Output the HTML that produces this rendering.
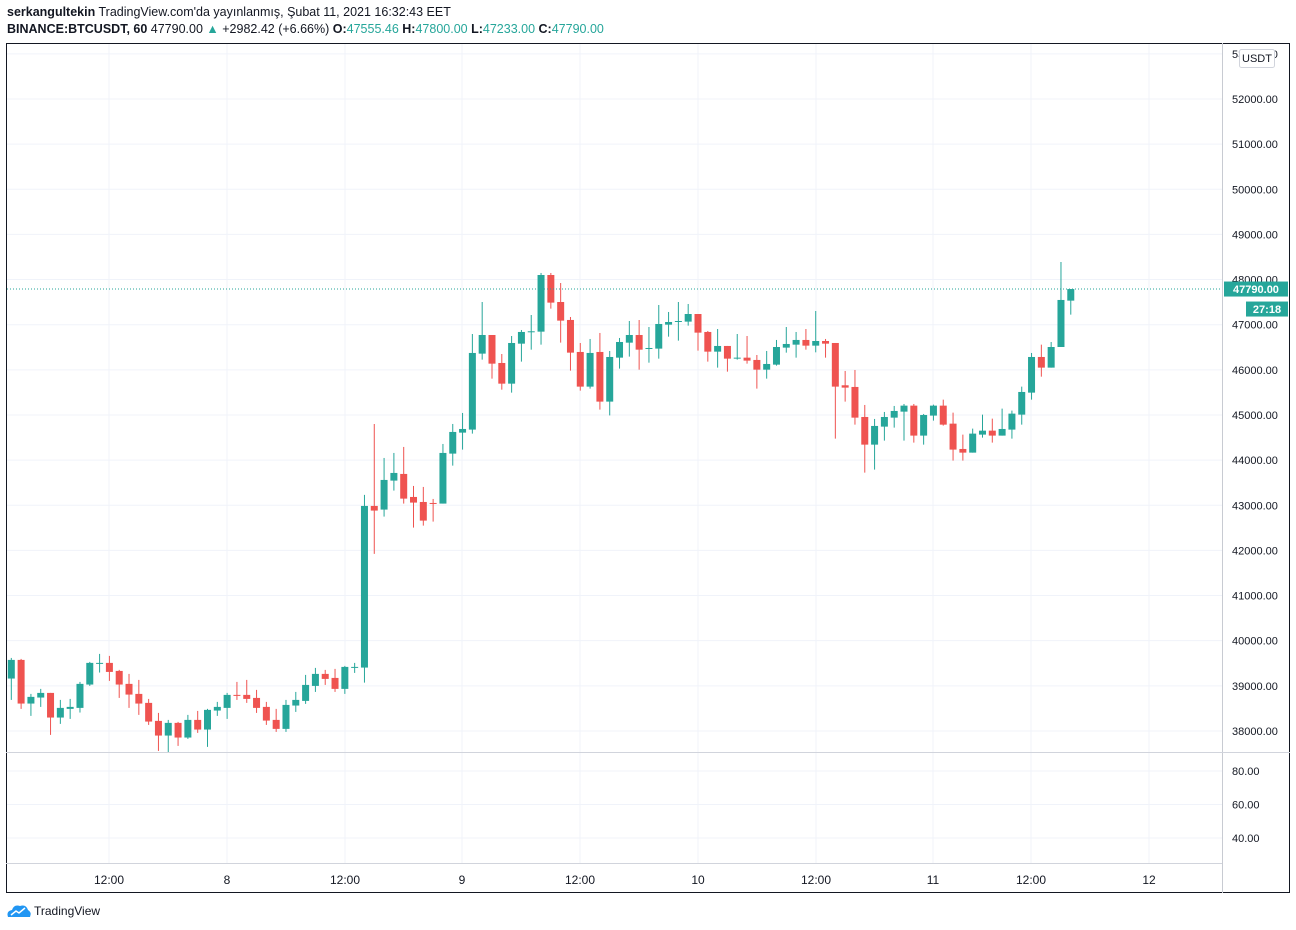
<!DOCTYPE html>
<html><head><meta charset="utf-8"><style>
body{margin:0;width:1296px;height:930px;background:#fff;font-family:"Liberation Sans",sans-serif;overflow:hidden;position:relative}
.hdr{position:absolute;left:7px;font-size:12.5px;color:#131722;white-space:nowrap}
.g{color:#26a69a}
svg{position:absolute;left:0;top:0}
</style></head><body>
<div class="hdr" style="top:5px"><b>serkangultekin</b> TradingView.com'da yayınlanmış, Şubat 11, 2021 16:32:43 EET</div>
<div class="hdr" style="top:22px"><b>BINANCE:BTCUSDT, 60</b> 47790.00 <span class="g">▲</span> +2982.42 (+6.66%) <b>O:</b><span class="g">47555.46</span> <b>H:</b><span class="g">47800.00</span> <b>L:</b><span class="g">47233.00</span> <b>C:</b><span class="g">47790.00</span></div>
<svg id="chart" width="1296" height="930"></svg>
<div style="position:absolute;left:34px;top:904px;font-size:12px;color:#131722">TradingView</div>
<svg width="26" height="16" style="left:6px;top:903px"><path d="M2 14 Q0 8 6 7 Q8 1 14 3 Q20 1 22 7 Q26 9 24 14 Z" fill="#2196f3"/><path d="M5 12 L10 8 L13 10 L19 5" stroke="#fff" stroke-width="1.5" fill="none"/></svg>
<script>
const opens=[39161,39574,38607,38740,38843,38297,38489,38511,39028,39493,39508,39330,39043,38821,38622,38223,37898,38179,37854,38245,38031,38452,38511,38799,38799,38732,38533,38245,38046,38563,38666,38998,39264,39175,38932,39412,
39404,42985,42904,43546,43694,43184,43073,43051,43037,44144,44609,44676,46359,46772,46152,45694,46580,46839,46846,48101,47503,47105,46396,45628,46396,
45296,46270,46602,46772,46462,46470,47001,47060,47068,47237,46839,46403,46529,46248,46270,46219,46004,46115,46492,46558,46662,46536,46639,
46595,45658,45621,44956,44343,44742,44941,45074,45207,44543,44986,45207,44808,44247,44166,44565,44653,44543,44676,45008,45495,46285,46049,46506,47533];
const highs=[39618,39596,38821,38932,38843,38688,38710,39087,39530,39707,39663,39353,39264,39131,38710,38400,38245,38201,38356,38444,38489,38644,38843,39087,39131,38910,38644,38489,38688,38865,39242,39397,39353,39375,39441,39508,
43229,44801,44048,44159,44292,43428,43406,43140,44358,44801,45045,46794,47503,46772,46351,46750,46883,47215,48146,48146,47924,47171,46595,46684,46817,
46418,46706,47082,47104,46949,47437,47282,47503,47459,47237,46861,46905,46529,46794,46750,46329,46418,46662,46949,46839,46905,47304,46684,
46595,45975,45997,45222,44912,45067,45200,45244,45244,45023,45229,45340,45052,44565,44698,45008,44919,45141,45097,45628,46374,46558,46617,48389,47791];
const lows=[38688,38489,38334,38533,37913,38157,38267,38408,38998,39294,39109,38732,38511,38356,38134,37558,37514,37669,37824,37957,37647,38334,38267,38688,38622,38400,38134,37979,37979,38422,38600,38865,39020,38865,38821,39286,
39072,41922,42749,43325,43037,42505,42549,42638,43037,43878,44233,44587,46226,45805,45561,45495,46182,46447,46558,47356,46603,45982,45539,45584,45119,
44990,46027,46293,46004,46159,46248,46735,46647,46979,46425,46182,46049,45960,46226,46137,45584,45805,46093,46381,46270,46447,46388,46270,
44476,45296,44786,43723,43790,44432,44720,44432,44388,44343,44875,44764,43989,43989,44166,44498,44388,44543,44476,44786,45340,45849,46049,46506,47223];
const closes=[39574,38607,38755,38843,38297,38511,38533,39043,39508,39508,39308,39028,38806,38607,38208,37898,38179,37854,38245,38031,38467,38533,38799,38784,38710,38511,38230,38046,38577,38688,39020,39264,39153,38932,39419,39419,
42985,42882,43561,43716,43147,43059,42660,43037,44159,44624,44690,46374,46772,46137,45694,46595,46839,46854,48101,47489,47090,46381,45628,46374,45296,
46285,46617,46772,46447,46484,47016,47060,47082,47237,46824,46403,46529,46248,46270,46204,46004,46130,46506,46573,46662,46536,46639,46580,
45628,45606,44941,44343,44757,44956,45089,45207,44543,45000,45207,44786,44233,44166,44587,44653,44543,44690,45030,45510,46285,46049,46506,47548,47790];
const priceTicks=[53000,52000,51000,50000,49000,48000,47000,46000,45000,44000,43000,42000,41000,40000,39000,38000];
const indTicks=[80,60,40];
const timeLabels=["12:00","8","12:00","9","12:00","10","12:00","11","12:00","12"];
const timeLabelX=[109,227,345,462,580,698,816,933,1031,1149];
const lastPrice=47790;

const svg=document.getElementById('chart');
const NS='http://www.w3.org/2000/svg';
function el(t,a,p){const e=document.createElementNS(NS,t);for(const k in a)e.setAttribute(k,a[k]);(p||svg).appendChild(e);return e;}
const L=7,R=1222,T=44,B=752;
const y=p=>99+(52000-p)/1000*45.14;
const x=i=>11.3+i*9.81;
const iy=v=>771+(80-v)/20*33.5;

const grid=el('g',{});


priceTicks.forEach(p=>{el('line',{x1:L,x2:R,y1:y(p),y2:y(p),stroke:'#f0f3fa','stroke-width':1},grid);});
indTicks.forEach(v=>{el('line',{x1:L,x2:R,y1:iy(v),y2:iy(v),stroke:'#f0f3fa'},grid);});
timeLabelX.forEach(tx=>{el('line',{x1:tx,x2:tx,y1:T,y2:863,stroke:'#f0f3fa'},grid);});

const clip=el('clipPath',{id:'pc'});el('rect',{x:L,y:T,width:R-L,height:B-T},clip);
const cg=el('g',{'clip-path':'url(#pc)'});
opens.forEach((o,i)=>{
  const c=closes[i],col=c>=o?'#26a69a':'#ef5350',cx=x(i);
  const g=el('g',{},cg);
  
  
  el('line',{x1:cx,x2:cx,y1:y(highs[i]),y2:y(lows[i]),stroke:col,'stroke-width':1},g);
  const t=y(Math.max(o,c)),b=y(Math.min(o,c));
  el('rect',{x:cx-3.5,y:t,width:7,height:Math.max(1,b-t),fill:col},g);
});
const pl=el('line',{x1:L,x2:R,y1:y(lastPrice),y2:y(lastPrice),stroke:'#26a69a','stroke-dasharray':'1 2'});



el('rect',{x:6.5,y:43.5,width:1283,height:849,fill:'none',stroke:'#131722'});
el('line',{x1:R+0.5,x2:R+0.5,y1:43,y2:893,stroke:'#c8cbd2'});
el('line',{x1:6,x2:1290,y1:B+0.5,y2:B+0.5,stroke:'#d1d4dc'});
el('line',{x1:6,x2:R,y1:863.5,y2:863.5,stroke:'#d1d4dc'});

priceTicks.forEach(p=>{const t=el('text',{x:1232,y:y(p)+4,'font-size':11,fill:'#131722'});t.textContent=p.toFixed(2);

});
indTicks.forEach(v=>{const t=el('text',{x:1232,y:iy(v)+4,'font-size':11,fill:'#131722'});t.textContent=v.toFixed(2);

});
timeLabels.forEach((s,i)=>{const t=el('text',{x:timeLabelX[i],y:884,'font-size':12,fill:'#131722','text-anchor':'middle'});t.textContent=s;

});

const ub=el('g',{});


el('rect',{x:1239.5,y:49.5,width:35,height:18,fill:'#fff',stroke:'#d1d4dc',rx:2},ub);
const ut=el('text',{x:1257,y:62,'font-size':11,fill:'#131722','text-anchor':'middle'},ub);ut.textContent='USDT';

const lp=el('g',{});


el('rect',{x:1224,y:y(lastPrice)-7.5,width:64,height:15,fill:'#26a69a'},lp);
const lt=el('text',{x:1256,y:y(lastPrice)+4,'font-size':11,'font-weight':'bold',fill:'#fff','text-anchor':'middle'},lp);lt.textContent=lastPrice.toFixed(2);
el('rect',{x:1246,y:y(lastPrice)+12.5,width:42,height:15,fill:'#26a69a'},lp);
const ct=el('text',{x:1267,y:y(lastPrice)+24,'font-size':11,'font-weight':'bold',fill:'#fff','text-anchor':'middle'},lp);ct.textContent='27:18';
</script>
</body></html>
